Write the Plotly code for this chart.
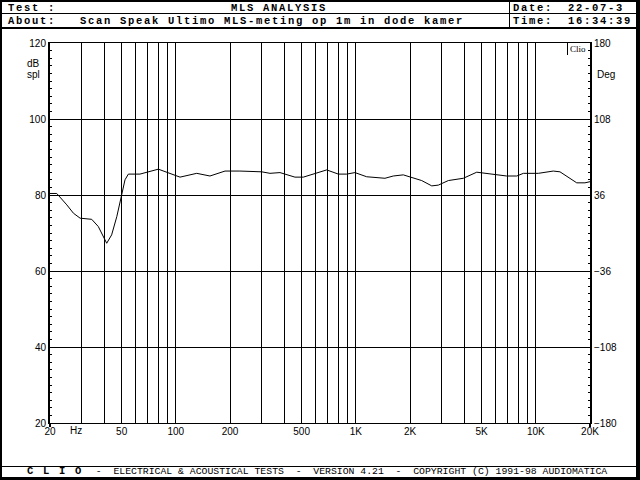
import plotly.graph_objects as go

# ---------------- data ----------------
freq_hz = [20, 21.8, 24.8, 27.0, 29.4, 34.1, 37.1, 39.6, 41.3, 44.0, 47.0, 50.0, 52.2, 54.5,
           63.2, 80, 105.5, 130.7, 154.8, 187.6, 227, 300, 333.6, 379, 459, 511, 606, 689,
           800, 890, 989, 1149, 1452, 1614, 1835, 2043, 2323, 2642, 2873, 3266, 3956, 4697,
           5809, 6891, 7836, 8530, 10330, 12500, 13620, 15490, 16880, 18750, 20000]
spl_db = [80.4, 80.4, 77.4, 75.2, 73.9, 73.6, 71.7, 69.0, 67.3, 69.5, 74.3, 80.0, 84.0, 85.5,
          85.5, 86.8, 84.7, 85.7, 85.0, 86.3, 86.3, 86.1, 85.7, 85.9, 84.7, 84.7, 85.9, 86.6,
          85.5, 85.5, 85.9, 84.8, 84.4, 85.0, 85.3, 84.7, 83.8, 82.4, 82.6, 83.8, 84.4, 86.0,
          85.5, 85.0, 85.0, 85.7, 85.7, 86.3, 86.1, 84.4, 83.2, 83.2, 83.5]

grid_freqs = [20, 30, 40, 50, 60, 70, 80, 90, 100, 200, 300, 400, 500, 600, 700, 800, 900,
              1000, 2000, 3000, 4000, 5000, 6000, 7000, 8000, 9000, 10000, 20000]
labeled = {20: "20", 50: "50", 100: "100", 200: "200", 500: "500", 1000: "1K",
           2000: "2K", 5000: "5K", 10000: "10K", 20000: "20K"}
x_ticktext = [labeled.get(f, "") for f in grid_freqs]

db_ticks = [20, 40, 60, 80, 100, 120]
deg_ticks = [-180, -108, -36, 36, 108, 180]

header_title = "MLS ANALYSIS"
header_about = "Scan Speak Ultimo MLS-meting op 1m in dode kamer"
header_date = "22-07-3"
header_time = "16:34:39"
footer_clio = "C L I O"
footer_rest = "  -  ELECTRICAL & ACOUSTICAL TESTS  -  VERSION 4.21  -  COPYRIGHT (C) 1991-98 AUDIOMATICA"

# ---------------- geometry helpers ----------------
W, H = 640, 480
L, R, T, B = 50, 590, 43, 423


def px(x):
    return (x - L) / (R - L)


def py(y):
    return (B - y) / (B - T)


fig = go.Figure()
fig.add_trace(go.Scatter(x=freq_hz, y=spl_db, mode="lines",
                         line=dict(color="black", width=1), hoverinfo="skip",
                         showlegend=False))
fig.add_trace(go.Scatter(x=[], y=[], yaxis="y2", showlegend=False))

shapes = []


def box(x0, y0, x1, y1):
    shapes.append(dict(type="rect", xref="paper", yref="paper", x0=px(x0), x1=px(x1),
                       y0=py(y0), y1=py(y1), fillcolor="black", line=dict(width=0),
                       layer="above"))


# outer frame
box(0, 0, 2, 480)
box(636, 0, 640, 480)
box(0, 0, 640, 2)
box(0, 477, 640, 480)
# header separators
box(2, 13, 636, 14)
box(2, 27, 636, 29)
box(509, 2, 510, 28)
# footer separator
box(2, 466, 636, 467)
# Clio box edge
box(567, 43, 568, 55)
# axis extensions below bottom
box(49, 423, 51, 427)
box(589, 423, 591, 427)

ann = []


def text(x, y, s, size, family="Liberation Mono", weight=700, anchor="left", spacing=None):
    if spacing is not None:
        s = '<span style="letter-spacing:%.2fpx">%s</span>' % (spacing, s)
    ann.append(dict(xref="paper", yref="paper", x=px(x), y=py(y), text=s, showarrow=False,
                    xanchor=anchor, yanchor="middle", borderpad=0,
                    font=dict(family=family, size=size, color="black", weight=weight)))


HS, HSP = 10.5, 1.7   # header font size + letter spacing -> 8 px per char
text(7, 8, "Test :", HS, spacing=HSP)
text(7, 20.5, "About:", HS, spacing=HSP)
text(230, 8, header_title, HS, spacing=HSP)
text(79, 20.5, header_about, HS, spacing=HSP)
text(512, 8, "Date:", HS, spacing=HSP)
text(512, 20.5, "Time:", HS, spacing=HSP)
text(567, 8, header_date, HS, spacing=HSP)
text(567, 20.5, header_time, HS, spacing=HSP)
text(26, 471.5, footer_clio, HS, spacing=HSP)
text(83, 471.5, footer_rest, 9.8, weight=400)
text(26, 64, "dB", 10, family="Liberation Sans", weight=400)
text(26, 74.5, "spl", 10, family="Liberation Sans", weight=400)
text(596, 74.5, "Deg", 10, family="Liberation Sans", weight=400)
text(76, 430, "Hz", 10, family="Liberation Sans", weight=400, anchor="center")
text(569, 49, "Clio", 9, family="Liberation Serif", weight=400)

tickfont = dict(family="Liberation Sans", size=10, color="black")

fig.update_layout(
    width=W, height=H,
    margin=dict(l=L, r=W - R, t=T, b=H - B, pad=0),
    paper_bgcolor="white", plot_bgcolor="white",
    shapes=shapes, annotations=ann,
    xaxis=dict(type="log", range=[1.30103, 4.30103], tickvals=grid_freqs,
               ticktext=x_ticktext, showgrid=True, gridcolor="black", gridwidth=1,
               showline=True, linecolor="black", linewidth=1, mirror=True,
               ticks="", tickfont=tickfont, zeroline=False, ticklabelstandoff=-1),
    yaxis=dict(range=[20, 120], tickvals=db_ticks, showgrid=True, gridcolor="black",
               gridwidth=1, showline=True, linecolor="black", linewidth=2,
               ticks="inside", ticklen=2, tickcolor="black",
               minor=dict(dtick=2, tick0=20, ticks="inside", ticklen=2, tickcolor="black",
                          showgrid=False),
               tickfont=tickfont, zeroline=False),
    yaxis2=dict(range=[-180, 180], tickvals=deg_ticks, overlaying="y", side="right",
                anchor="x", showgrid=False, showline=True, linecolor="black", linewidth=2,
                ticks="inside", ticklen=2, tickcolor="black",
                minor=dict(dtick=7.2, tick0=-180, ticks="inside", ticklen=2,
                           tickcolor="black"),
                tickfont=tickfont, zeroline=False),
)

fig.write_html("out.html", config={"displayModeBar": False},
               post_script="document.body.style.margin='0';")
